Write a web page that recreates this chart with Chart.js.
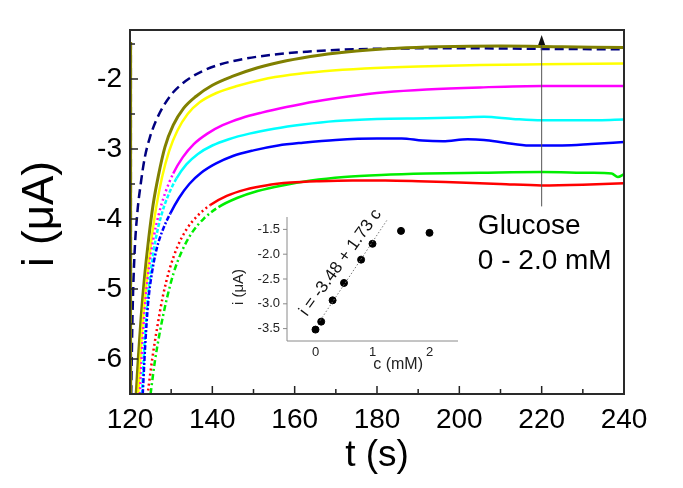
<!DOCTYPE html>
<html>
<head>
<meta charset="utf-8">
<script src="https://cdn.jsdelivr.net/npm/chart.js@4.4.1/dist/chart.umd.min.js"></script>
<style>
  html, body { margin: 0; padding: 0; background: #fff; }
  #wrap { position: relative; width: 683px; height: 488px; }
  #main { position: absolute; left: 0; top: 0; }
  #inset { position: absolute; left: 225px; top: 200px; }
</style>
</head>
<body>
<div id="wrap">
  <canvas id="main" width="683" height="488"></canvas>
  <canvas id="inset" width="245" height="180"></canvas>
</div>
<script>
// main plot: current transients, t (s) vs i (uA)
const X_TICKS = [120, 140, 160, 180, 200, 220, 240];
const Y_TICKS = [-6, -5, -4, -3, -2];

const SPIKE_T = [120.2, 120.2];
const SPIKE_I = [-1.47, -6.6];

const NAVY_T = [120.3, 120.6, 121.1, 121.8, 122.6, 123.6, 124.8, 126.3, 128.2, 130.5, 133.5, 137.5, 142, 148, 155, 163, 172, 185, 200, 220, 240];
const NAVY_I = [-6.5, -5.4, -4.5, -3.9, -3.5, -3.12, -2.84, -2.6, -2.38, -2.19, -2.03, -1.89, -1.79, -1.71, -1.65, -1.61, -1.58, -1.565, -1.56, -1.57, -1.575];

const OLIVE_T = [121.5, 122, 122.7, 123.5, 124.5, 125.6, 126.9, 128.5, 130.5, 133, 136, 140, 145, 151, 158, 166, 175, 185, 195, 210, 225, 240];
const OLIVE_I = [-6.5, -6.0, -5.4, -4.85, -4.3, -3.8, -3.38, -2.97, -2.66, -2.42, -2.25, -2.09, -1.96, -1.84, -1.74, -1.66, -1.6, -1.56, -1.54, -1.53, -1.54, -1.55];

const YELLOW_T = [122, 122.5, 123.2, 124.1, 125.2, 126.4, 127.8, 129.5, 131.5, 134, 137, 141, 146, 152, 159, 167, 177, 190, 205, 220, 240];
const YELLOW_I = [-6.5, -6.0, -5.4, -4.85, -4.3, -3.82, -3.4, -3.03, -2.74, -2.5, -2.33, -2.2, -2.1, -2.01, -1.94, -1.89, -1.85, -1.82, -1.8, -1.79, -1.78];

const MAGENTA_T = [122.4, 123, 123.7, 124.6, 125.7, 127, 128.6, 130.5, 132.8, 135.5, 138.8, 142.5, 147, 152, 158, 165, 173, 182, 192, 205, 220, 240];
const MAGENTA_I = [-6.5, -5.8, -5.2, -4.7, -4.28, -3.93, -3.62, -3.35, -3.12, -2.93, -2.78, -2.66, -2.56, -2.48, -2.4, -2.32, -2.25, -2.19, -2.15, -2.12, -2.1, -2.1];

const CYAN_T = [122.9, 123.5, 124.2, 125.1, 126.2, 127.6, 129.3, 131.3, 133.7, 136.5, 140, 144, 149, 155, 162, 170, 180, 192, 200, 206, 213, 220, 230, 240];
const CYAN_I = [-6.5, -5.8, -5.2, -4.72, -4.3, -3.95, -3.66, -3.42, -3.22, -3.07, -2.95, -2.86, -2.78, -2.71, -2.65, -2.6, -2.57, -2.56, -2.55, -2.54, -2.57, -2.59, -2.59, -2.58];

const BLUE_T = [123.1, 123.7, 124.4, 125.3, 126.5, 128, 129.8, 131.9, 134.4, 137.3, 140.8, 145, 150, 156, 162, 170, 180, 186, 191, 196, 202, 206, 211, 217, 225, 232, 240];
const BLUE_I = [-6.5, -5.8, -5.2, -4.78, -4.42, -4.15, -3.92, -3.7, -3.5, -3.34, -3.21, -3.1, -3.02, -2.95, -2.91, -2.87, -2.85, -2.85, -2.88, -2.89, -2.86, -2.87, -2.91, -2.95, -2.95, -2.93, -2.9];

const RED_T = [124.4, 125.4, 126.6, 128, 129.6, 131.5, 133.7, 136.3, 139.5, 143.5, 148, 153, 159, 166, 174, 182, 190, 200, 210, 220, 230, 240];
const RED_I = [-6.45, -6.0, -5.55, -5.1, -4.72, -4.4, -4.15, -3.96, -3.8, -3.67, -3.58, -3.52, -3.48, -3.46, -3.45, -3.45, -3.46, -3.48, -3.5, -3.52, -3.51, -3.49];

const GREEN_T = [125, 126, 127.3, 128.9, 130.6, 132.6, 135, 138, 141.5, 146, 151, 157, 164, 172, 181, 192, 205, 220, 232, 237, 238.5, 240];
const GREEN_I = [-6.5, -6.05, -5.6, -5.15, -4.77, -4.46, -4.2, -3.99, -3.83, -3.7, -3.6, -3.52, -3.45, -3.4, -3.37, -3.35, -3.34, -3.33, -3.34, -3.35, -3.4, -3.36];

// inset: calibration i vs c
const INSET_C = [0, 0.1, 0.3, 0.5, 0.8, 1.0, 1.5, 2.0];
const INSET_I = [-3.52, -3.36, -2.93, -2.58, -2.11, -1.79, -1.53, -1.57];
const FIT_C = [0.08, 1.25];
const FIT_I = [-3.34, -1.32];
const INSET_X_TICKS = [0, 1, 2];
const INSET_Y_TICKS = [-3.5, -3.0, -2.5, -2.0, -1.5];

const FONT = "'Liberation Sans', Arial, sans-serif";

function pts(xs, ys) {
    return xs.map((x, k) => ({ x: x, y: ys[k] }));
}

// broken line look where the transient is steep (sparse samples)
function steepDash(pattern, limit) {
    return function(ctx) {
        const dx = Math.abs(ctx.p1.x - ctx.p0.x);
        const dy = Math.abs(ctx.p1.y - ctx.p0.y);
        return dy > limit * dx ? pattern : undefined;
    };
}

function curve(xs, ys, color, width, dash, steep, limit) {
    const ds = {
        data: pts(xs, ys),
        borderColor: color,
        borderWidth: width,
        pointRadius: 0,
        cubicInterpolationMode: 'monotone',
        fill: false
    };
    if (dash) ds.borderDash = dash;
    if (steep) ds.segment = { borderDash: steepDash(steep, limit) };
    return ds;
}

const mainDecor = {
    id: 'mainDecor',
    afterDraw(chart) {
        const c = chart.ctx;
        const a = chart.chartArea;
        const xs = chart.scales.x, ys = chart.scales.y;
        c.save();
        // ticks inside
        c.strokeStyle = '#222';
        c.lineWidth = 1.5;
        for (let t = 120; t <= 240; t += 10) {
            const px = xs.getPixelForValue(t);
            const len = (t % 20 === 0) ? 8 : 5;
            c.beginPath(); c.moveTo(px, a.bottom); c.lineTo(px, a.bottom - len); c.stroke();
        }
        for (let v = -6.5; v <= -1.5; v += 0.5) {
            const py = ys.getPixelForValue(v);
            const len = Number.isInteger(v) ? 8 : 5;
            c.beginPath(); c.moveTo(a.left, py); c.lineTo(a.left + len, py); c.stroke();
        }
        // frame
        c.lineWidth = 2;
        c.strokeStyle = '#2a2a2a';
        c.strokeRect(a.left, a.top, a.right - a.left, a.bottom - a.top);

        // arrow
        const ax = xs.getPixelForValue(220);
        const ay0 = ys.getPixelForValue(-3.82);
        const ay1 = ys.getPixelForValue(-1.37);
        c.strokeStyle = '#555';
        c.lineWidth = 1;
        c.beginPath(); c.moveTo(ax, ay0); c.lineTo(ax, ay1 + 6); c.stroke();
        c.fillStyle = '#111';
        c.beginPath(); c.moveTo(ax, ay1); c.lineTo(ax - 3.5, ay1 + 10); c.lineTo(ax + 3.5, ay1 + 10); c.closePath(); c.fill();

        // annotation text
        c.fillStyle = '#000';
        c.font = '28px ' + FONT;
        c.textAlign = 'left';
        c.textBaseline = 'alphabetic';
        const tx = xs.getPixelForValue(204.5);
        c.fillText('Glucose', tx, ys.getPixelForValue(-4.22));
        c.fillText('0 - 2.0 mM', tx, ys.getPixelForValue(-4.72));

        // axis titles
        c.font = '37px ' + FONT;
        c.textAlign = 'center';
        c.fillText('t (s)', (a.left + a.right) / 2, 466);
        c.save();
        c.translate(41, 214);
        c.rotate(-Math.PI / 2);
        c.textBaseline = 'middle';
        c.font = '44px ' + FONT;
        c.fillText('i (\u03BCA)', 0, 0);
        c.restore();
        c.restore();
    }
};

new Chart(document.getElementById('main'), {
    type: 'line',
    data: {
        datasets: [
            curve(SPIKE_T, SPIKE_I, '#808000', 2.5, null, null),
            curve(SPIKE_T, SPIKE_I, '#000080', 2.5, [8, 5], null),
            curve(RED_T, RED_I, '#ff0000', 2.5, null, [2, 3], 0.7),
            curve(GREEN_T, GREEN_I, '#00ee00', 2.5, null, [6, 3, 2, 3], 0.7),
            curve(BLUE_T, BLUE_I, '#0000ff', 2.5, null, [5, 2, 2, 2], 2),
            curve(CYAN_T, CYAN_I, '#00ffff', 2.5, null, [4, 2], 2),
            curve(MAGENTA_T, MAGENTA_I, '#ff00ff', 2.5, null, [2, 3], 2),
            curve(YELLOW_T, YELLOW_I, '#ffff00', 2.5, null, null),
            curve(OLIVE_T, OLIVE_I, '#808000', 3, null, null),
            curve(NAVY_T, NAVY_I, '#000080', 2.5, [9, 5], null)
        ]
    },
    options: {
        responsive: false,
        animation: false,
        layout: { padding: { left: 0, top: 30, right: 59, bottom: 0 } },
        plugins: { legend: { display: false }, tooltip: { enabled: false } },
        scales: {
            x: {
                type: 'linear',
                min: 120,
                max: 240,
                afterFit: s => { s.height = 94; },
                afterBuildTicks: s => { s.ticks = X_TICKS.map(v => ({ value: v })); },
                grid: { display: false, drawTicks: false },
                border: { display: false },
                ticks: { font: { family: FONT, size: 28 }, color: '#000', padding: 9, maxRotation: 0 }
            },
            y: {
                type: 'linear',
                min: -6.5,
                max: -1.3,
                afterFit: s => { s.width = 130; },
                afterBuildTicks: s => { s.ticks = Y_TICKS.map(v => ({ value: v })); },
                grid: { display: false, drawTicks: false },
                border: { display: false },
                ticks: { font: { family: FONT, size: 28 }, color: '#000', padding: 8 }
            }
        }
    },
    plugins: [mainDecor]
});

const insetDecor = {
    id: 'insetDecor',
    afterDraw(chart) {
        const c = chart.ctx;
        const a = chart.chartArea;
        const xs = chart.scales.x, ys = chart.scales.y;
        c.save();
        c.strokeStyle = '#8a8a8a';
        c.lineWidth = 1;
        c.beginPath();
        c.moveTo(a.left, a.top); c.lineTo(a.left, a.bottom); c.lineTo(a.right, a.bottom);
        c.stroke();
        INSET_Y_TICKS.forEach(v => {
            const py = ys.getPixelForValue(v);
            c.beginPath(); c.moveTo(a.left - 4, py); c.lineTo(a.left, py); c.stroke();
        });
        // fit equation
        c.fillStyle = '#111';
        c.font = '17px ' + FONT;
        c.textAlign = 'center';
        c.textBaseline = 'middle';
        c.translate(xs.getPixelForValue(0.44), ys.getPixelForValue(-2.17));
        c.rotate(-54 * Math.PI / 180);
        c.fillText('i = -3.48 + 1.73 c', 0, 0);
        c.restore();

        c.save();
        c.fillStyle = '#222';
        c.font = '16px ' + FONT;
        c.textAlign = 'center';
        c.textBaseline = 'middle';
        c.fillText('c (mM)', xs.getPixelForValue(1.45), 165);
        c.translate(14, 87);
        c.rotate(-Math.PI / 2);
        c.font = '15px ' + FONT;
        c.fillText('i (\u03BCA)', 0, 0);
        c.restore();
    }
};

new Chart(document.getElementById('inset'), {
    type: 'scatter',
    data: {
        datasets: [
            {
                type: 'line',
                data: pts(FIT_C, FIT_I),
                borderColor: '#777',
                borderWidth: 1,
                borderDash: [1.5, 2],
                pointRadius: 0
            },
            {
                data: pts(INSET_C, INSET_I),
                backgroundColor: '#000',
                borderColor: '#000',
                pointRadius: 3.5
            }
        ]
    },
    options: {
        responsive: false,
        animation: false,
        layout: { padding: { left: 0, top: 17, right: 12, bottom: 0 } },
        plugins: { legend: { display: false }, tooltip: { enabled: false } },
        scales: {
            x: {
                type: 'linear',
                min: -0.5,
                max: 2.5,
                afterFit: s => { s.height = 39; },
                afterBuildTicks: s => { s.ticks = INSET_X_TICKS.map(v => ({ value: v })); },
                grid: { display: false, drawTicks: false },
                border: { display: false },
                ticks: { font: { family: FONT, size: 13 }, color: '#222', padding: 4, maxRotation: 0 }
            },
            y: {
                type: 'linear',
                min: -3.75,
                max: -1.25,
                afterFit: s => { s.width = 62; },
                afterBuildTicks: s => { s.ticks = INSET_Y_TICKS.map(v => ({ value: v })); },
                grid: { display: false, drawTicks: false },
                border: { display: false },
                ticks: {
                    font: { family: FONT, size: 13 },
                    color: '#222',
                    padding: 7,
                    callback: v => v.toFixed(1)
                }
            }
        }
    },
    plugins: [insetDecor]
});
</script>
</body>
</html>
